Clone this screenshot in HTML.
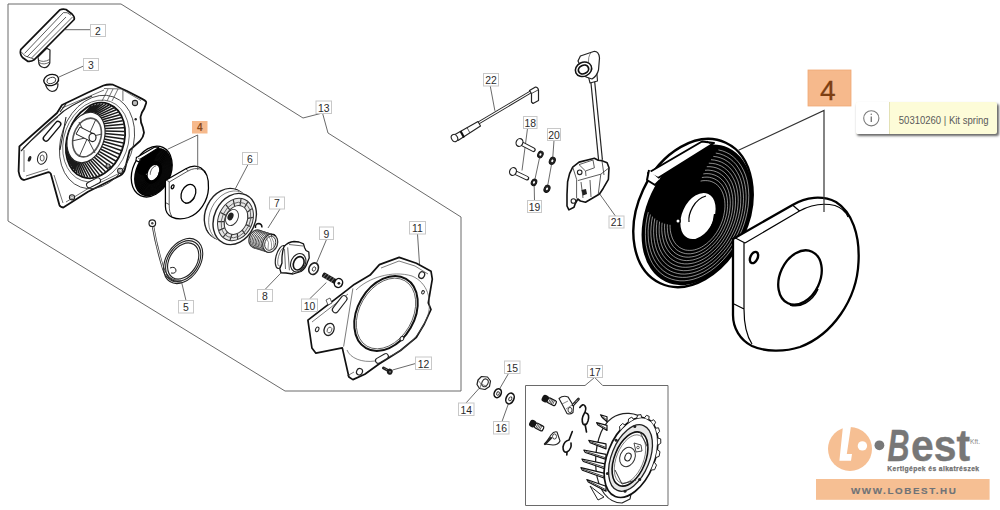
<!DOCTYPE html>
<html><head><meta charset="utf-8">
<style>
html,body{margin:0;padding:0;background:#fff;width:1000px;height:510px;overflow:hidden;font-family:"Liberation Sans",sans-serif;}
svg{position:absolute;left:0;top:0;}
svg text{font-family:"Liberation Sans",sans-serif;}
</style></head><body>
<svg width="1000" height="510" viewBox="0 0 1000 510">
<path d="M8,4 H121 L303,118 L322.5,113 L328,133 L461,217 V391 H285 L8,221 Z" fill="none" stroke="#6a6a6a" stroke-width="1"/>
<path d="M585,385.5 H525.5 V505.5 H668 V385.5 H602.7 L594.6,377.4 Z" fill="none" stroke="#6a6a6a" stroke-width="1"/>
<g style="--k:1;--wl:1"><ellipse cx="693" cy="213" rx="55" ry="77.5" transform="rotate(25 693 213)" fill="#fff" stroke="#000" style="stroke-width:calc(2.4px*var(--k))"/>
<ellipse cx="697" cy="214.8" rx="50.5" ry="74" transform="rotate(25 697 214.8)" fill="#000"/>
<path d="M700.6,181.1 L702.9,180.7 L705.3,180.6 L707.5,180.7 L709.7,181 L711.8,181.7 L713.8,182.6 L715.7,183.7 L717.4,185.1 L719,186.7 L720.4,188.6 L721.6,190.6 L722.7,192.9 L723.5,195.3 L724.2,197.8 L724.7,200.5 L724.9,203.3 L725,206.2 L724.8,209.2 L724.4,212.2 L723.8,215.3 L723.1,218.3 L722.1,221.3 L720.9,224.3 L719.6,227.2 L718.1,230 L716.4,232.8 L714.6,235.3 L712.7,237.8 L710.6,240 L708.5,242.1 L706.2,244 L703.9,245.6 L701.6,247.1 L699.2,248.3 L696.8,249.2 L694.4,249.9 L692.1,250.3 L689.7,250.4 L687.5,250.3 L685.3,250 L683.2,249.3 L681.2,248.4 L679.3,247.3 L677.6,245.9 L676,244.3 L674.6,242.4 L673.4,240.4 L672.3,238.1 L671.5,235.7 L670.8,233.2 L670.3,230.5 L670.1,227.7 L670,224.8" fill="none" stroke="#fff" style="stroke-width:calc(0.55px*var(--k));stroke-opacity:var(--wl)"/>
<path d="M701.9,177.5 L704.5,177.2 L707,177.1 L709.4,177.3 L711.8,177.9 L714.1,178.7 L716.2,179.8 L718.2,181.1 L720,182.8 L721.7,184.6 L723.1,186.8 L724.4,189.1 L725.5,191.6 L726.4,194.3 L727,197.2 L727.4,200.2 L727.6,203.3 L727.6,206.6 L727.3,209.8 L726.8,213.2 L726.1,216.5 L725.1,219.9 L724,223.2 L722.6,226.4 L721.1,229.6 L719.4,232.6 L717.5,235.6 L715.4,238.3 L713.2,240.9 L710.9,243.3 L708.5,245.5 L706.1,247.5 L703.5,249.2 L700.9,250.7 L698.3,251.9 L695.6,252.8 L693,253.4 L690.4,253.8 L687.9,253.8 L685.5,253.6 L683.1,253 L680.8,252.2 L678.7,251.1 L676.7,249.8 L674.9,248.1 L673.2,246.3 L671.8,244.1 L670.5,241.8 L669.4,239.3 L668.5,236.6 L667.9,233.7 L667.5,230.7 L667.3,227.6 L667.3,224.3" fill="none" stroke="#fff" style="stroke-width:calc(0.55px*var(--k));stroke-opacity:var(--wl)"/>
<path d="M703.3,173.9 L706.1,173.6 L708.9,173.7 L711.5,174.1 L714,174.8 L716.4,175.8 L718.7,177.1 L720.8,178.7 L722.7,180.6 L724.5,182.7 L726,185.1 L727.3,187.8 L728.4,190.6 L729.2,193.6 L729.8,196.8 L730.2,200.2 L730.3,203.6 L730.1,207.1 L729.7,210.7 L729.1,214.4 L728.2,218 L727.1,221.7 L725.7,225.2 L724.2,228.7 L722.4,232.1 L720.5,235.4 L718.3,238.5 L716,241.5 L713.6,244.2 L711.1,246.7 L708.4,249 L705.7,251.1 L702.9,252.8 L700,254.3 L697.2,255.5 L694.3,256.4 L691.5,256.9 L688.7,257.2 L685.9,257.1 L683.3,256.7 L680.8,256 L678.4,255 L676.1,253.7 L674,252.1 L672.1,250.2 L670.3,248.1 L668.8,245.7 L667.5,243 L666.4,240.2 L665.6,237.2 L665,234 L664.7,230.7 L664.5,227.2 L664.7,223.7" fill="none" stroke="#fff" style="stroke-width:calc(0.55px*var(--k));stroke-opacity:var(--wl)"/>
<path d="M705,170.3 L708,170.1 L710.9,170.4 L713.7,170.9 L716.4,171.8 L719,173 L721.3,174.6 L723.5,176.4 L725.5,178.6 L727.3,181 L728.9,183.7 L730.2,186.7 L731.2,189.8 L732,193.2 L732.6,196.7 L732.9,200.3 L732.9,204.1 L732.6,208 L732.1,211.9 L731.3,215.8 L730.2,219.8 L728.9,223.7 L727.4,227.5 L725.6,231.3 L723.6,234.9 L721.4,238.4 L719,241.7 L716.5,244.8 L713.8,247.7 L711,250.3 L708.1,252.7 L705.1,254.7 L702,256.5 L698.9,258 L695.8,259.1 L692.8,260 L689.7,260.4 L686.7,260.6 L683.8,260.4 L681,259.8 L678.3,258.9 L675.7,257.7 L673.4,256.1 L671.2,254.3 L669.2,252.1 L667.4,249.7 L665.8,247 L664.5,244.1 L663.5,240.9 L662.7,237.5 L662.1,234 L661.8,230.4 L661.8,226.6 L662.1,222.7" fill="none" stroke="#fff" style="stroke-width:calc(0.55px*var(--k));stroke-opacity:var(--wl)"/>
<path d="M706.8,166.7 L710,166.7 L713.1,167.1 L716.1,167.8 L718.9,168.9 L721.6,170.4 L724.1,172.2 L726.3,174.3 L728.4,176.8 L730.2,179.5 L731.8,182.5 L733.1,185.8 L734.1,189.2 L734.9,192.9 L735.4,196.8 L735.5,200.8 L735.4,204.9 L735,209 L734.3,213.3 L733.4,217.5 L732.1,221.7 L730.6,225.9 L728.8,230 L726.8,234 L724.6,237.8 L722.2,241.5 L719.5,245 L716.8,248.2 L713.8,251.2 L710.7,253.9 L707.6,256.4 L704.3,258.5 L701,260.3 L697.7,261.7 L694.4,262.8 L691,263.5 L687.8,263.9 L684.6,263.9 L681.5,263.5 L678.5,262.8 L675.7,261.7 L673,260.2 L670.5,258.4 L668.3,256.3 L666.2,253.8 L664.4,251.1 L662.8,248.1 L661.5,244.8 L660.5,241.4 L659.7,237.7 L659.2,233.8 L659.1,229.8 L659.2,225.7 L659.6,221.6" fill="none" stroke="#fff" style="stroke-width:calc(0.55px*var(--k));stroke-opacity:var(--wl)"/>
<path d="M708.8,163.2 L712.2,163.4 L715.5,163.9 L718.6,164.9 L721.6,166.2 L724.3,167.9 L726.9,170 L729.3,172.4 L731.4,175.1 L733.2,178.2 L734.8,181.5 L736.1,185.1 L737,188.9 L737.7,192.9 L738.1,197.1 L738.2,201.4 L737.9,205.9 L737.4,210.4 L736.5,214.9 L735.4,219.4 L733.9,223.9 L732.2,228.4 L730.2,232.7 L727.9,236.9 L725.5,241 L722.8,244.8 L719.9,248.4 L716.8,251.8 L713.6,254.9 L710.3,257.7 L706.9,260.2 L703.4,262.3 L699.8,264.1 L696.2,265.4 L692.7,266.5 L689.1,267.1 L685.7,267.3 L682.3,267.2 L679,266.6 L675.9,265.6 L672.9,264.3 L670.2,262.6 L667.6,260.5 L665.3,258.1 L663.2,255.4 L661.3,252.3 L659.7,249 L658.5,245.4 L657.5,241.6 L656.8,237.6 L656.4,233.4 L656.3,229.1 L656.6,224.7 L657.1,220.2" fill="none" stroke="#fff" style="stroke-width:calc(0.55px*var(--k));stroke-opacity:var(--wl)"/>
<path d="M711,159.7 L714.6,160.1 L718,160.9 L721.2,162 L724.3,163.6 L727.2,165.6 L729.8,167.9 L732.2,170.7 L734.4,173.7 L736.2,177.1 L737.8,180.7 L739,184.7 L739.9,188.8 L740.5,193.2 L740.8,197.7 L740.7,202.3 L740.4,207.1 L739.6,211.9 L738.6,216.8 L737.2,221.6 L735.6,226.4 L733.6,231.1 L731.4,235.6 L728.9,240.1 L726.2,244.3 L723.2,248.3 L720,252 L716.7,255.5 L713.2,258.7 L709.6,261.5 L706,264 L702.2,266.1 L698.4,267.9 L694.6,269.2 L690.8,270.1 L687.1,270.6 L683.4,270.7 L679.9,270.3 L676.4,269.6 L673.2,268.4 L670.1,266.8 L667.2,264.8 L664.6,262.5 L662.2,259.8 L660,256.7 L658.2,253.3 L656.6,249.7 L655.4,245.8 L654.5,241.6 L653.9,237.2 L653.6,232.7 L653.7,228.1 L654.1,223.3 L654.8,218.5" fill="none" stroke="#fff" style="stroke-width:calc(0.55px*var(--k));stroke-opacity:var(--wl)"/>
<path d="M713.3,156.4 L717,156.9 L720.6,157.9 L724,159.3 L727.2,161.2 L730.2,163.4 L732.9,166.1 L735.3,169.1 L737.4,172.5 L739.3,176.2 L740.8,180.2 L742,184.5 L742.8,189 L743.3,193.7 L743.5,198.5 L743.3,203.5 L742.7,208.6 L741.8,213.7 L740.6,218.9 L739,224 L737.1,229 L734.9,233.9 L732.4,238.7 L729.7,243.4 L726.7,247.8 L723.4,251.9 L720,255.8 L716.4,259.3 L712.7,262.6 L708.8,265.4 L704.9,267.9 L700.8,270 L696.8,271.7 L692.8,272.9 L688.8,273.7 L684.8,274.1 L681,274 L677.3,273.4 L673.7,272.4 L670.3,271 L667.1,269.1 L664.2,266.9 L661.5,264.2 L659,261.2 L656.9,257.8 L655,254.1 L653.5,250.1 L652.3,245.9 L651.5,241.4 L651,236.7 L650.8,231.8 L651.1,226.8 L651.6,221.7 L652.5,216.6" fill="none" stroke="#fff" style="stroke-width:calc(0.55px*var(--k));stroke-opacity:var(--wl)"/>
<path d="M715.8,153.1 L719.7,153.8 L723.4,155.1 L726.9,156.8 L730.2,158.9 L733.2,161.5 L736,164.4 L738.4,167.8 L740.5,171.5 L742.4,175.5 L743.8,179.9 L744.9,184.5 L745.7,189.4 L746.1,194.4 L746.1,199.6 L745.7,204.9 L745,210.3 L743.9,215.8 L742.4,221.2 L740.6,226.6 L738.5,231.9 L736,237 L733.3,242 L730.3,246.8 L727,251.4 L723.5,255.7 L719.8,259.6 L715.9,263.3 L711.9,266.5 L707.8,269.4 L703.6,271.9 L699.3,273.9 L695,275.5 L690.8,276.6 L686.6,277.3 L682.4,277.4 L678.4,277.1 L674.5,276.4 L670.8,275.1 L667.3,273.5 L664,271.3 L661,268.8 L658.3,265.8 L655.8,262.4 L653.7,258.7 L651.9,254.7 L650.4,250.3 L649.3,245.7 L648.5,240.9 L648.2,235.8 L648.1,230.6 L648.5,225.3 L649.3,219.9 L650.4,214.5" fill="none" stroke="#fff" style="stroke-width:calc(0.55px*var(--k));stroke-opacity:var(--wl)"/>
<path d="M718.4,149.9 L722.5,150.9 L726.3,152.4 L729.9,154.3 L733.2,156.8 L736.3,159.7 L739.1,163 L741.6,166.7 L743.7,170.7 L745.5,175.1 L746.9,179.8 L747.9,184.8 L748.5,190 L748.8,195.4 L748.6,200.9 L748.1,206.6 L747.1,212.3 L745.8,218 L744.1,223.8 L742.1,229.4 L739.7,234.9 L737,240.3 L734,245.5 L730.7,250.5 L727.1,255.2 L723.4,259.6 L719.4,263.6 L715.2,267.3 L710.9,270.6 L706.5,273.4 L702.1,275.9 L697.6,277.8 L693.1,279.3 L688.6,280.3 L684.2,280.8 L679.9,280.8 L675.7,280.2 L671.7,279.2 L667.8,277.7 L664.2,275.8 L660.9,273.3 L657.8,270.5 L655,267.2 L652.5,263.5 L650.4,259.4 L648.7,255 L647.3,250.3 L646.2,245.3 L645.6,240.1 L645.4,234.7 L645.5,229.2 L646.1,223.5 L647,217.8 L648.3,212.1" fill="none" stroke="#fff" style="stroke-width:calc(0.55px*var(--k));stroke-opacity:var(--wl)"/>
<ellipse cx="698" cy="216" rx="17" ry="25.5" transform="rotate(25 698 216)" fill="#fff" stroke="#000" style="stroke-width:calc(2.4px*var(--k))"/>
<path d="M686,239 C697,246 713,236 715,214" fill="none" stroke="#000" style="stroke-width:calc(2.2px*var(--k))"/>
<path d="M689,222 C688,214 694,199 706,196" fill="none" stroke="#000" style="stroke-width:calc(1.2px*var(--k))"/>
<circle cx="678" cy="221" r="2.2" fill="#fff" stroke="#000" style="stroke-width:calc(1.4px*var(--k))"/>
<path d="M648,173 L702,141.5 L714,143 L658,178 Z" fill="#fff" stroke="#000" style="stroke-width:calc(2px*var(--k))" stroke-linejoin="round"/>
<path d="M649,170 L647,180 L655,185 L660,180" fill="#fff" stroke="#000" style="stroke-width:calc(2px*var(--k))" stroke-linejoin="round"/>
<path d="M707,141 L714,147" fill="none" stroke="#000" style="stroke-width:calc(1px*var(--k))"/>
<path d="M733,239 L792.5,205 C806,197 822,195 836,202 C852,212 860,235 858.5,262 C857,300 832,335 800,347 C785,352 765,352 752,346 C740,340 733,328 733,315 Z" fill="#fff" stroke="#000" style="stroke-width:calc(2.3px*var(--k))" stroke-linejoin="round"/>
<path d="M745,243 L799.5,211 C812,204 824,203 835,205.5 C842,208 846,212 848,217 M733.5,237 L745,243 M792.5,205 L799.5,211 M744,243 V309 C744,325 746,335 752,344 M734,304 L744,309" fill="none" stroke="#000" style="stroke-width:calc(1.2px*var(--k))"/>
<ellipse cx="800" cy="277.5" rx="20" ry="28.5" transform="rotate(25 800 277.5)" fill="#fff" stroke="#000" style="stroke-width:calc(2.3px*var(--k))"/>
<path d="M818,289 C812,302 800,308 790,305" fill="none" stroke="#000" style="stroke-width:calc(1.6px*var(--k))"/>
<ellipse cx="754" cy="257.5" rx="3.6" ry="6" transform="rotate(25 754 257.5)" fill="#fff" stroke="#000" style="stroke-width:calc(2.4px*var(--k))"/></g>
<g style="--k:1.6;--wl:0.12" transform="translate(-86 98.5) scale(0.343)"><ellipse cx="693" cy="213" rx="55" ry="77.5" transform="rotate(25 693 213)" fill="#fff" stroke="#000" style="stroke-width:calc(2.4px*var(--k))"/>
<ellipse cx="697" cy="214.8" rx="50.5" ry="74" transform="rotate(25 697 214.8)" fill="#000"/>
<path d="M700.6,181.1 L702.9,180.7 L705.3,180.6 L707.5,180.7 L709.7,181 L711.8,181.7 L713.8,182.6 L715.7,183.7 L717.4,185.1 L719,186.7 L720.4,188.6 L721.6,190.6 L722.7,192.9 L723.5,195.3 L724.2,197.8 L724.7,200.5 L724.9,203.3 L725,206.2 L724.8,209.2 L724.4,212.2 L723.8,215.3 L723.1,218.3 L722.1,221.3 L720.9,224.3 L719.6,227.2 L718.1,230 L716.4,232.8 L714.6,235.3 L712.7,237.8 L710.6,240 L708.5,242.1 L706.2,244 L703.9,245.6 L701.6,247.1 L699.2,248.3 L696.8,249.2 L694.4,249.9 L692.1,250.3 L689.7,250.4 L687.5,250.3 L685.3,250 L683.2,249.3 L681.2,248.4 L679.3,247.3 L677.6,245.9 L676,244.3 L674.6,242.4 L673.4,240.4 L672.3,238.1 L671.5,235.7 L670.8,233.2 L670.3,230.5 L670.1,227.7 L670,224.8" fill="none" stroke="#fff" style="stroke-width:calc(0.55px*var(--k));stroke-opacity:var(--wl)"/>
<path d="M701.9,177.5 L704.5,177.2 L707,177.1 L709.4,177.3 L711.8,177.9 L714.1,178.7 L716.2,179.8 L718.2,181.1 L720,182.8 L721.7,184.6 L723.1,186.8 L724.4,189.1 L725.5,191.6 L726.4,194.3 L727,197.2 L727.4,200.2 L727.6,203.3 L727.6,206.6 L727.3,209.8 L726.8,213.2 L726.1,216.5 L725.1,219.9 L724,223.2 L722.6,226.4 L721.1,229.6 L719.4,232.6 L717.5,235.6 L715.4,238.3 L713.2,240.9 L710.9,243.3 L708.5,245.5 L706.1,247.5 L703.5,249.2 L700.9,250.7 L698.3,251.9 L695.6,252.8 L693,253.4 L690.4,253.8 L687.9,253.8 L685.5,253.6 L683.1,253 L680.8,252.2 L678.7,251.1 L676.7,249.8 L674.9,248.1 L673.2,246.3 L671.8,244.1 L670.5,241.8 L669.4,239.3 L668.5,236.6 L667.9,233.7 L667.5,230.7 L667.3,227.6 L667.3,224.3" fill="none" stroke="#fff" style="stroke-width:calc(0.55px*var(--k));stroke-opacity:var(--wl)"/>
<path d="M703.3,173.9 L706.1,173.6 L708.9,173.7 L711.5,174.1 L714,174.8 L716.4,175.8 L718.7,177.1 L720.8,178.7 L722.7,180.6 L724.5,182.7 L726,185.1 L727.3,187.8 L728.4,190.6 L729.2,193.6 L729.8,196.8 L730.2,200.2 L730.3,203.6 L730.1,207.1 L729.7,210.7 L729.1,214.4 L728.2,218 L727.1,221.7 L725.7,225.2 L724.2,228.7 L722.4,232.1 L720.5,235.4 L718.3,238.5 L716,241.5 L713.6,244.2 L711.1,246.7 L708.4,249 L705.7,251.1 L702.9,252.8 L700,254.3 L697.2,255.5 L694.3,256.4 L691.5,256.9 L688.7,257.2 L685.9,257.1 L683.3,256.7 L680.8,256 L678.4,255 L676.1,253.7 L674,252.1 L672.1,250.2 L670.3,248.1 L668.8,245.7 L667.5,243 L666.4,240.2 L665.6,237.2 L665,234 L664.7,230.7 L664.5,227.2 L664.7,223.7" fill="none" stroke="#fff" style="stroke-width:calc(0.55px*var(--k));stroke-opacity:var(--wl)"/>
<path d="M705,170.3 L708,170.1 L710.9,170.4 L713.7,170.9 L716.4,171.8 L719,173 L721.3,174.6 L723.5,176.4 L725.5,178.6 L727.3,181 L728.9,183.7 L730.2,186.7 L731.2,189.8 L732,193.2 L732.6,196.7 L732.9,200.3 L732.9,204.1 L732.6,208 L732.1,211.9 L731.3,215.8 L730.2,219.8 L728.9,223.7 L727.4,227.5 L725.6,231.3 L723.6,234.9 L721.4,238.4 L719,241.7 L716.5,244.8 L713.8,247.7 L711,250.3 L708.1,252.7 L705.1,254.7 L702,256.5 L698.9,258 L695.8,259.1 L692.8,260 L689.7,260.4 L686.7,260.6 L683.8,260.4 L681,259.8 L678.3,258.9 L675.7,257.7 L673.4,256.1 L671.2,254.3 L669.2,252.1 L667.4,249.7 L665.8,247 L664.5,244.1 L663.5,240.9 L662.7,237.5 L662.1,234 L661.8,230.4 L661.8,226.6 L662.1,222.7" fill="none" stroke="#fff" style="stroke-width:calc(0.55px*var(--k));stroke-opacity:var(--wl)"/>
<path d="M706.8,166.7 L710,166.7 L713.1,167.1 L716.1,167.8 L718.9,168.9 L721.6,170.4 L724.1,172.2 L726.3,174.3 L728.4,176.8 L730.2,179.5 L731.8,182.5 L733.1,185.8 L734.1,189.2 L734.9,192.9 L735.4,196.8 L735.5,200.8 L735.4,204.9 L735,209 L734.3,213.3 L733.4,217.5 L732.1,221.7 L730.6,225.9 L728.8,230 L726.8,234 L724.6,237.8 L722.2,241.5 L719.5,245 L716.8,248.2 L713.8,251.2 L710.7,253.9 L707.6,256.4 L704.3,258.5 L701,260.3 L697.7,261.7 L694.4,262.8 L691,263.5 L687.8,263.9 L684.6,263.9 L681.5,263.5 L678.5,262.8 L675.7,261.7 L673,260.2 L670.5,258.4 L668.3,256.3 L666.2,253.8 L664.4,251.1 L662.8,248.1 L661.5,244.8 L660.5,241.4 L659.7,237.7 L659.2,233.8 L659.1,229.8 L659.2,225.7 L659.6,221.6" fill="none" stroke="#fff" style="stroke-width:calc(0.55px*var(--k));stroke-opacity:var(--wl)"/>
<path d="M708.8,163.2 L712.2,163.4 L715.5,163.9 L718.6,164.9 L721.6,166.2 L724.3,167.9 L726.9,170 L729.3,172.4 L731.4,175.1 L733.2,178.2 L734.8,181.5 L736.1,185.1 L737,188.9 L737.7,192.9 L738.1,197.1 L738.2,201.4 L737.9,205.9 L737.4,210.4 L736.5,214.9 L735.4,219.4 L733.9,223.9 L732.2,228.4 L730.2,232.7 L727.9,236.9 L725.5,241 L722.8,244.8 L719.9,248.4 L716.8,251.8 L713.6,254.9 L710.3,257.7 L706.9,260.2 L703.4,262.3 L699.8,264.1 L696.2,265.4 L692.7,266.5 L689.1,267.1 L685.7,267.3 L682.3,267.2 L679,266.6 L675.9,265.6 L672.9,264.3 L670.2,262.6 L667.6,260.5 L665.3,258.1 L663.2,255.4 L661.3,252.3 L659.7,249 L658.5,245.4 L657.5,241.6 L656.8,237.6 L656.4,233.4 L656.3,229.1 L656.6,224.7 L657.1,220.2" fill="none" stroke="#fff" style="stroke-width:calc(0.55px*var(--k));stroke-opacity:var(--wl)"/>
<path d="M711,159.7 L714.6,160.1 L718,160.9 L721.2,162 L724.3,163.6 L727.2,165.6 L729.8,167.9 L732.2,170.7 L734.4,173.7 L736.2,177.1 L737.8,180.7 L739,184.7 L739.9,188.8 L740.5,193.2 L740.8,197.7 L740.7,202.3 L740.4,207.1 L739.6,211.9 L738.6,216.8 L737.2,221.6 L735.6,226.4 L733.6,231.1 L731.4,235.6 L728.9,240.1 L726.2,244.3 L723.2,248.3 L720,252 L716.7,255.5 L713.2,258.7 L709.6,261.5 L706,264 L702.2,266.1 L698.4,267.9 L694.6,269.2 L690.8,270.1 L687.1,270.6 L683.4,270.7 L679.9,270.3 L676.4,269.6 L673.2,268.4 L670.1,266.8 L667.2,264.8 L664.6,262.5 L662.2,259.8 L660,256.7 L658.2,253.3 L656.6,249.7 L655.4,245.8 L654.5,241.6 L653.9,237.2 L653.6,232.7 L653.7,228.1 L654.1,223.3 L654.8,218.5" fill="none" stroke="#fff" style="stroke-width:calc(0.55px*var(--k));stroke-opacity:var(--wl)"/>
<path d="M713.3,156.4 L717,156.9 L720.6,157.9 L724,159.3 L727.2,161.2 L730.2,163.4 L732.9,166.1 L735.3,169.1 L737.4,172.5 L739.3,176.2 L740.8,180.2 L742,184.5 L742.8,189 L743.3,193.7 L743.5,198.5 L743.3,203.5 L742.7,208.6 L741.8,213.7 L740.6,218.9 L739,224 L737.1,229 L734.9,233.9 L732.4,238.7 L729.7,243.4 L726.7,247.8 L723.4,251.9 L720,255.8 L716.4,259.3 L712.7,262.6 L708.8,265.4 L704.9,267.9 L700.8,270 L696.8,271.7 L692.8,272.9 L688.8,273.7 L684.8,274.1 L681,274 L677.3,273.4 L673.7,272.4 L670.3,271 L667.1,269.1 L664.2,266.9 L661.5,264.2 L659,261.2 L656.9,257.8 L655,254.1 L653.5,250.1 L652.3,245.9 L651.5,241.4 L651,236.7 L650.8,231.8 L651.1,226.8 L651.6,221.7 L652.5,216.6" fill="none" stroke="#fff" style="stroke-width:calc(0.55px*var(--k));stroke-opacity:var(--wl)"/>
<path d="M715.8,153.1 L719.7,153.8 L723.4,155.1 L726.9,156.8 L730.2,158.9 L733.2,161.5 L736,164.4 L738.4,167.8 L740.5,171.5 L742.4,175.5 L743.8,179.9 L744.9,184.5 L745.7,189.4 L746.1,194.4 L746.1,199.6 L745.7,204.9 L745,210.3 L743.9,215.8 L742.4,221.2 L740.6,226.6 L738.5,231.9 L736,237 L733.3,242 L730.3,246.8 L727,251.4 L723.5,255.7 L719.8,259.6 L715.9,263.3 L711.9,266.5 L707.8,269.4 L703.6,271.9 L699.3,273.9 L695,275.5 L690.8,276.6 L686.6,277.3 L682.4,277.4 L678.4,277.1 L674.5,276.4 L670.8,275.1 L667.3,273.5 L664,271.3 L661,268.8 L658.3,265.8 L655.8,262.4 L653.7,258.7 L651.9,254.7 L650.4,250.3 L649.3,245.7 L648.5,240.9 L648.2,235.8 L648.1,230.6 L648.5,225.3 L649.3,219.9 L650.4,214.5" fill="none" stroke="#fff" style="stroke-width:calc(0.55px*var(--k));stroke-opacity:var(--wl)"/>
<path d="M718.4,149.9 L722.5,150.9 L726.3,152.4 L729.9,154.3 L733.2,156.8 L736.3,159.7 L739.1,163 L741.6,166.7 L743.7,170.7 L745.5,175.1 L746.9,179.8 L747.9,184.8 L748.5,190 L748.8,195.4 L748.6,200.9 L748.1,206.6 L747.1,212.3 L745.8,218 L744.1,223.8 L742.1,229.4 L739.7,234.9 L737,240.3 L734,245.5 L730.7,250.5 L727.1,255.2 L723.4,259.6 L719.4,263.6 L715.2,267.3 L710.9,270.6 L706.5,273.4 L702.1,275.9 L697.6,277.8 L693.1,279.3 L688.6,280.3 L684.2,280.8 L679.9,280.8 L675.7,280.2 L671.7,279.2 L667.8,277.7 L664.2,275.8 L660.9,273.3 L657.8,270.5 L655,267.2 L652.5,263.5 L650.4,259.4 L648.7,255 L647.3,250.3 L646.2,245.3 L645.6,240.1 L645.4,234.7 L645.5,229.2 L646.1,223.5 L647,217.8 L648.3,212.1" fill="none" stroke="#fff" style="stroke-width:calc(0.55px*var(--k));stroke-opacity:var(--wl)"/>
<ellipse cx="698" cy="216" rx="17" ry="25.5" transform="rotate(25 698 216)" fill="#fff" stroke="#000" style="stroke-width:calc(2.4px*var(--k))"/>
<path d="M686,239 C697,246 713,236 715,214" fill="none" stroke="#000" style="stroke-width:calc(2.2px*var(--k))"/>
<path d="M689,222 C688,214 694,199 706,196" fill="none" stroke="#000" style="stroke-width:calc(1.2px*var(--k))"/>
<circle cx="678" cy="221" r="2.2" fill="#fff" stroke="#000" style="stroke-width:calc(1.4px*var(--k))"/>
<path d="M648,173 L702,141.5 L714,143 L658,178 Z" fill="#fff" stroke="#000" style="stroke-width:calc(2px*var(--k))" stroke-linejoin="round"/>
<path d="M649,170 L647,180 L655,185 L660,180" fill="#fff" stroke="#000" style="stroke-width:calc(2px*var(--k))" stroke-linejoin="round"/>
<path d="M707,141 L714,147" fill="none" stroke="#000" style="stroke-width:calc(1px*var(--k))"/>
<path d="M733,239 L792.5,205 C806,197 822,195 836,202 C852,212 860,235 858.5,262 C857,300 832,335 800,347 C785,352 765,352 752,346 C740,340 733,328 733,315 Z" fill="#fff" stroke="#000" style="stroke-width:calc(2.3px*var(--k))" stroke-linejoin="round"/>
<path d="M745,243 L799.5,211 C812,204 824,203 835,205.5 C842,208 846,212 848,217 M733.5,237 L745,243 M792.5,205 L799.5,211 M744,243 V309 C744,325 746,335 752,344 M734,304 L744,309" fill="none" stroke="#000" style="stroke-width:calc(1.2px*var(--k))"/>
<ellipse cx="800" cy="277.5" rx="20" ry="28.5" transform="rotate(25 800 277.5)" fill="#fff" stroke="#000" style="stroke-width:calc(2.3px*var(--k))"/>
<path d="M818,289 C812,302 800,308 790,305" fill="none" stroke="#000" style="stroke-width:calc(1.6px*var(--k))"/>
<ellipse cx="754" cy="257.5" rx="3.6" ry="6" transform="rotate(25 754 257.5)" fill="#fff" stroke="#000" style="stroke-width:calc(2.4px*var(--k))"/></g>
<path d="M738.5,150.3 L824,110.5 V212" fill="none" stroke="#333" stroke-width="1.2"/>
<path d="M167.7,149.2 L197.7,135 V170" fill="none" stroke="#444" stroke-width="0.8"/>
<path d="M19.4,146.3 L57,113 L62,105 L88,92.5 L103.5,85.5 Q108,84 113,84.7 L127,91 L143.5,99.6 Q146.5,101 146.2,103 L144.2,108.6 Q141,113 140.5,117 Q140.5,123 142.8,127.1 L144,132.6 Q143.5,137 140,141 L129.6,150.4 L124.9,169.2 Q124,173 120.2,175.5 L88,191.8 L63.3,207.5 Q60,207 59.4,205 L50.8,173.7 Q49.5,172 48.4,172.2 L24.1,180 Q20,180 18.6,171.4 Z" fill="#fff" stroke="#111" stroke-width="1.8" stroke-linejoin="round"/>
<path d="M23,148 L58,117 M26,176 L48,169 M24,150 V172 M54,175 L63,203 M62,108 L104,90 M104,88.5 L122.9,89 L122.9,101 M108,89 L102,101 M113,89 L107,101 M118,89 L112,101 M123,90 L141,100.5 M122,172 L89,188 L66,202" fill="none" stroke="#333" stroke-width="0.7"/>
<ellipse cx="97" cy="142" rx="36" ry="48" transform="rotate(20 97 142)" fill="none" stroke="#333" stroke-width="0.8"/>
<ellipse cx="96" cy="141" rx="32" ry="42" transform="rotate(20 96 141)" fill="none" stroke="#444" stroke-width="0.7"/>
<ellipse cx="95.5" cy="140.5" rx="28.2" ry="38.8" transform="rotate(20 95.5 140.5)" fill="#fff" stroke="#111" stroke-width="1.8"/>
<path d="M83.6,114 L91.3,105.9 M85.6,113.1 L94.3,104.7 M87.6,112.6 L97.4,104 M89.6,112.3 L100.4,103.6 M91.5,112.3 L103.3,103.7 M93.4,112.6 L106.2,104.1 M95.2,113.2 L108.9,105 M96.9,114 L111.5,106.2 M98.5,115.1 L114,107.8 M99.9,116.4 L116.2,109.8 M101.2,118 L118.2,112.1 M102.3,119.7 L119.9,114.7 M103.3,121.7 L121.4,117.6 M104,123.8 L122.6,120.8 M104.6,126.1 L123.5,124.2 M105,128.5 L124.1,127.7 M105.1,131 L124.4,131.4 M105,133.6 L124.4,135.2 M104.8,136.2 L124,139.1 M104.3,138.9 L123.3,142.9 M103.6,141.5 L122.4,146.8 M102.8,144.1 L121.1,150.5 M101.7,146.6 L119.6,154.2 M100.5,149 L117.8,157.7 M99.1,151.3 L115.7,161 M97.6,153.4 L113.4,164.1 M95.9,155.4 L111,167 M94.2,157.1 L108.3,169.5 M92.3,158.7 L105.5,171.7 M90.4,160 L102.6,173.6 M88.4,161 L99.7,175.1 M86.4,161.9 L96.7,176.3 M84.4,162.4 L93.6,177 M82.4,162.7 L90.6,177.4 M80.5,162.7 L87.7,177.3 M78.6,162.4 L84.8,176.9 M76.8,161.8 L82.1,176 M75.1,161 L79.5,174.8 M73.5,159.9 L77,173.2 M72.1,158.6 L74.8,171.2 M70.8,157 L72.8,168.9 M69.7,155.3 L71.1,166.3 M68.7,153.3 L69.6,163.4 M68,151.2 L68.4,160.2 M67.4,148.9 L67.5,156.8 M67,146.5 L66.9,153.3" fill="none" stroke="#1a1a1a" stroke-width="1.5"/>
<ellipse cx="86" cy="137.5" rx="18" ry="26" transform="rotate(20 86 137.5)" fill="#fff" stroke="#222" stroke-width="1.2"/>
<ellipse cx="87" cy="137.5" rx="13.5" ry="20" transform="rotate(20 87 137.5)" fill="none" stroke="#555" stroke-width="1.6"/>
<path d="M79,122 L95,153 M72,141 L102,134 M79,157 L96,119" fill="none" stroke="#444" stroke-width="1"/>
<path d="M80,127 L94,134 L90,141 L76,134 Z" fill="#fff" stroke="#222" stroke-width="1"/>
<ellipse cx="92.5" cy="137.5" rx="3.5" ry="4.2" fill="#fff" stroke="#222" stroke-width="1.2"/>
<circle cx="135" cy="103" r="2.6" fill="#fff" stroke="#222" stroke-width="1.1"/><circle cx="135" cy="103" r="1.3" fill="none" stroke="#555" stroke-width="0.6"/>
<circle cx="72" cy="197.3" r="2.6" fill="#fff" stroke="#222" stroke-width="1.1"/><circle cx="72" cy="197.3" r="1.3" fill="none" stroke="#555" stroke-width="0.6"/>
<circle cx="120.2" cy="170.8" r="2.6" fill="#fff" stroke="#222" stroke-width="1.1"/><circle cx="120.2" cy="170.8" r="1.3" fill="none" stroke="#555" stroke-width="0.6"/>
<circle cx="108" cy="166" r="2" fill="#fff" stroke="#222" stroke-width="1.1"/><circle cx="108" cy="166" r="1.0" fill="none" stroke="#555" stroke-width="0.6"/>
<circle cx="135.7" cy="119.2" r="1.2" fill="#222"/>
<ellipse cx="42.2" cy="158" rx="4.5" ry="6.5" transform="rotate(20 42.2 158)" fill="#fff" stroke="#222" stroke-width="1"/><ellipse cx="42.2" cy="158" rx="2" ry="3" fill="none" stroke="#333" stroke-width="0.8"/>
<ellipse cx="29.6" cy="158.8" rx="1.6" ry="3" transform="rotate(20 29.6 158.8)" fill="#222"/>
<rect x="86" y="180" width="15" height="5.5" rx="2.7" transform="rotate(-27 93.5 182.7)" fill="#fff" stroke="#222" stroke-width="1"/>
<rect x="40" y="128.5" width="24" height="5.5" rx="2.7" transform="rotate(-50 52 131.2)" fill="#fff" stroke="#111" stroke-width="1.4"/>
<path d="M21,151 C35,136 48,124 58,116 C64,110 75,103 92,96 M60,112 L66,104 M66,117 L60,150" fill="none" stroke="#222" stroke-width="1.1"/>
<path d="M38,57 L46.8,48.3 L50,50 L49.8,63 Q48,68 43.5,67.5 Q38.5,66.5 38.6,61 Z" fill="#fff" stroke="#222" stroke-width="1.2" stroke-linejoin="round"/>
<path d="M38.6,60 Q43,63 49.6,59.5 M39,62.5 Q44,65.5 49.6,62" fill="none" stroke="#444" stroke-width="0.8"/>
<path d="M20.7,49.6 L59.6,10.1 Q62.5,8.5 66,9.5 L72,14 Q75,17 74.2,19.5 L34.1,59.8 Q31,62 27.7,61.3 L22.5,57.5 Q19.5,54 20.7,49.6 Z" fill="#fff" stroke="#111" stroke-width="1.7" stroke-linejoin="round"/>
<path d="M24.6,53.4 L63.4,12.6 Q67,11.5 71,15.2 M31.5,58 L72.5,17 M21.4,52.1 L25.2,56 L34.1,59.1 M27,57 L66,17" fill="none" stroke="#333" stroke-width="0.8"/>
<path d="M64.4,29.7 H90.5" fill="none" stroke="#444" stroke-width="0.8"/>
<path d="M45,82 Q46,90 52,91.5 Q58,91 58,84 Z" fill="#fff" stroke="#222" stroke-width="1.2"/>
<ellipse cx="51.2" cy="80" rx="7.5" ry="5.5" transform="rotate(-15 51.2 80)" fill="#fff" stroke="#111" stroke-width="1.4"/>
<ellipse cx="51.2" cy="80.5" rx="4.5" ry="3" transform="rotate(-15 51.2 80)" fill="none" stroke="#333" stroke-width="0.9"/>
<path d="M59,77 L83.5,66" fill="none" stroke="#444" stroke-width="0.8"/>
<path d="M152.5,224 Q156,245 163,268 Q168,283 181,281" fill="none" stroke="#333" stroke-width="2.4"/>
<path d="M152.5,224 Q156,245 163,268 Q168,283 181,281" fill="none" stroke="#fff" stroke-width="0.9"/>
<ellipse cx="183.2" cy="261" rx="17" ry="24.5" transform="rotate(33 183.2 261)" fill="none" stroke="#222" stroke-width="1.1"/>
<ellipse cx="183.2" cy="261" rx="15.3" ry="22.1" transform="rotate(33 183.2 261)" fill="none" stroke="#222" stroke-width="1.1"/>
<ellipse cx="183.2" cy="261" rx="13.6" ry="19.6" transform="rotate(33 183.2 261)" fill="none" stroke="#222" stroke-width="1.1"/>
<circle cx="152.3" cy="223.2" r="3.3" fill="#fff" stroke="#222" stroke-width="1.2"/><circle cx="152.3" cy="223.2" r="1.2" fill="#444"/>
<path d="M170,268 Q175,266 176,270 Q176,274 171,273" fill="none" stroke="#222" stroke-width="1"/>
<path d="M181.4,281.4 L186,300.5" fill="none" stroke="#444" stroke-width="0.8"/>
<ellipse cx="226" cy="214" rx="20.5" ry="26.5" transform="rotate(25 226 214)" fill="#fff" stroke="#222" stroke-width="1.4"/>
<ellipse cx="227.4" cy="214.8" rx="20.5" ry="26.5" transform="rotate(25 227.4 214.8)" fill="#fff" stroke="#222" stroke-width="0"/>
<ellipse cx="228.9" cy="215.7" rx="20.5" ry="26.5" transform="rotate(25 228.9 215.7)" fill="#fff" stroke="#222" stroke-width="0"/>
<ellipse cx="230.3" cy="216.5" rx="20.5" ry="26.5" transform="rotate(25 230.3 216.5)" fill="#fff" stroke="#222" stroke-width="0.5"/>
<ellipse cx="231.8" cy="217.3" rx="20.5" ry="26.5" transform="rotate(25 231.8 217.3)" fill="#fff" stroke="#222" stroke-width="0"/>
<ellipse cx="233.2" cy="218.2" rx="20.5" ry="26.5" transform="rotate(25 233.2 218.2)" fill="#fff" stroke="#222" stroke-width="0"/>
<ellipse cx="234.7" cy="219" rx="20.5" ry="26.5" transform="rotate(25 234.7 219)" fill="#fff" stroke="#222" stroke-width="1.4"/>
<ellipse cx="235.5" cy="219.5" rx="17" ry="22" transform="rotate(25 235.5 219.5)" fill="#e6e6e6" stroke="#333" stroke-width="1"/>
<path d="M246,224.6 L250.5,226.5 M242.2,230.1 L245,234.2 M237.3,233.5 L237.7,239.1 M232,234.3 L230,240 M227.6,232.2 L223.3,236.9 M224.8,227.7 L219.1,230.4 M224.3,221.7 L218.1,221.7 M226,215.4 L220.5,212.5 M229.8,209.9 L226,204.8 M234.7,206.5 L233.3,199.9 M240,205.7 L241,199 M244.4,207.8 L247.7,202.1 M247.2,212.3 L251.9,208.6 M247.7,218.3 L252.9,217.3" fill="none" stroke="#333" stroke-width="1.2"/>
<ellipse cx="236" cy="220" rx="14" ry="18.5" transform="rotate(25 236 220)" fill="none" stroke="#555" stroke-width="0.8"/>
<ellipse cx="236" cy="220" rx="11" ry="15" transform="rotate(25 236 220)" fill="#fff" stroke="#333" stroke-width="1"/>
<ellipse cx="232" cy="217.5" rx="6" ry="8.5" transform="rotate(25 232 217.5)" fill="#fff" stroke="#333" stroke-width="0.9"/>
<ellipse cx="230.5" cy="216.5" rx="2.8" ry="4" transform="rotate(25 230.5 216.5)" fill="#222"/>
<path d="M248,164.5 L235.3,188.8" fill="none" stroke="#444" stroke-width="0.8"/>
<ellipse cx="256.5" cy="239" rx="7.3" ry="9.3" transform="rotate(20 256.5 239)" fill="#fff" stroke="#333" stroke-width="1.3"/>
<ellipse cx="258" cy="239.5" rx="7.3" ry="9.3" transform="rotate(20 258 239.5)" fill="#fff" stroke="#333" stroke-width="0.8"/>
<ellipse cx="259.5" cy="240" rx="7.3" ry="9.3" transform="rotate(20 259.5 240)" fill="#fff" stroke="#333" stroke-width="0.8"/>
<ellipse cx="261.1" cy="240.4" rx="7.3" ry="9.3" transform="rotate(20 261.1 240.4)" fill="#fff" stroke="#333" stroke-width="0.8"/>
<ellipse cx="262.6" cy="240.9" rx="7.3" ry="9.3" transform="rotate(20 262.6 240.9)" fill="#fff" stroke="#333" stroke-width="0.8"/>
<ellipse cx="264.1" cy="241.4" rx="7.3" ry="9.3" transform="rotate(20 264.1 241.4)" fill="#fff" stroke="#333" stroke-width="0.8"/>
<ellipse cx="265.6" cy="241.9" rx="7.3" ry="9.3" transform="rotate(20 265.6 241.9)" fill="#fff" stroke="#333" stroke-width="0.8"/>
<ellipse cx="267.2" cy="242.3" rx="7.3" ry="9.3" transform="rotate(20 267.2 242.3)" fill="#fff" stroke="#333" stroke-width="0.8"/>
<ellipse cx="268.7" cy="242.8" rx="7.3" ry="9.3" transform="rotate(20 268.7 242.8)" fill="#fff" stroke="#333" stroke-width="0.8"/>
<ellipse cx="270.2" cy="243.3" rx="7.3" ry="9.3" transform="rotate(20 270.2 243.3)" fill="#fff" stroke="#333" stroke-width="1.3"/>
<ellipse cx="270.2" cy="243.3" rx="5.3" ry="7.2" transform="rotate(20 270.2 243.3)" fill="#fff" stroke="#333" stroke-width="0.9"/>
<path d="M266,237 Q270,242 268,249 M268.5,236 Q273,242 271,250 M271,236 Q275,242 274,249" fill="none" stroke="#666" stroke-width="0.7"/>
<path d="M255.5,228 Q255,223.5 259,223.5 Q262,224 262,227.5" fill="none" stroke="#111" stroke-width="1.4"/>
<path d="M271,235.5 Q273.5,233 275.5,236" fill="none" stroke="#111" stroke-width="1.2"/>
<path d="M280,209 L268,228" fill="none" stroke="#444" stroke-width="0.8"/>
<ellipse cx="281" cy="257" rx="5" ry="11.8" transform="rotate(15 281 257)" fill="#fff" stroke="#222" stroke-width="1.2"/>
<ellipse cx="281.5" cy="257" rx="3" ry="9.5" transform="rotate(15 281.5 257)" fill="none" stroke="#555" stroke-width="0.7"/>
<path d="M284,246.5 Q288,242 294,241.5 L299,242 L303.5,243.8 L304.5,247.5 L306,250.5 L308.8,252 L309.2,258 L307.5,262 Q306,268 301,271.5 L293,274 L286,273 L281,272.8 L279.8,268.8 L282,263 Q281.5,254 284,246.5 Z" fill="#fff" stroke="#111" stroke-width="1.3" stroke-linejoin="round"/>
<path d="M287.7,247.4 L289.4,270.3 M284.5,249 L285.5,269 M289,244.5 L303,246 M292,273 L304,266" fill="none" stroke="#444" stroke-width="0.8"/>
<ellipse cx="298.2" cy="262.7" rx="7.2" ry="9.6" transform="rotate(25 298.2 262.7)" fill="#fff" stroke="#222" stroke-width="1.1"/>
<ellipse cx="298.7" cy="263.3" rx="5" ry="7" transform="rotate(25 298.7 263.3)" fill="#fff" stroke="#111" stroke-width="1.6"/>
<path d="M281.3,272.6 L265,289.5" fill="none" stroke="#444" stroke-width="0.8"/>
<ellipse cx="313.6" cy="268.7" rx="4.6" ry="6" transform="rotate(25 313.6 268.7)" fill="#fff" stroke="#222" stroke-width="1.6"/>
<ellipse cx="314" cy="269" rx="1.6" ry="2.3" transform="rotate(25 314 269)" fill="#fff" stroke="#333" stroke-width="0.8"/>
<path d="M316.6,263 L326.5,239.5" fill="none" stroke="#444" stroke-width="0.8"/>
<g transform="translate(323.5 274.8) rotate(30)"><rect x="-1" y="-2.6" width="16" height="5.2" rx="1.5" fill="#1a1a1a"/><path d="M2,-2.6 l-1,5.2 M5,-2.6 l-1,5.2 M8,-2.6 l-1,5.2 M11,-2.6 l-1,5.2" stroke="#999" stroke-width="0.7"/></g>
<ellipse cx="338.5" cy="283" rx="4" ry="4.6" transform="rotate(25 338.5 283)" fill="#fff" stroke="#111" stroke-width="1.5"/>
<circle cx="338.9" cy="283.3" r="1.4" fill="#222"/>
<path d="M326.4,282.5 L309.5,299" fill="none" stroke="#444" stroke-width="0.8"/>
<path d="M307.9,320.1 L347.6,289.7 L354.2,284.4 L370.1,275.1 L379.4,264.6 L399.2,257.4 L416.4,263.2 L431,271.2 L432.3,279.1 L429.6,295 L428.3,302.9 L431,309.5 L424.3,324 L416.4,337.3 L400.5,350.5 L379.4,363.8 L364.8,374.3 L352.9,379.6 L348.9,377 L342.3,347.9 L315.9,353.2 L311.9,347.9 Z" fill="#fff" stroke="#111" stroke-width="1.7" stroke-linejoin="round"/>
<path d="M352.9,288.4 L343.6,346.6 M312,322 L348,294 M381,268 L399,261 L415,266 L428,274 M347,376 L354,372" fill="none" stroke="#444" stroke-width="0.7"/>
<path d="M356,290 C368,278 392,270 412,276 C428,283 432,300 428,315 C420,338 400,356 375,361 C362,363 350,358 347,350" fill="none" stroke="#555" stroke-width="0.7"/>
<ellipse cx="386" cy="313.5" rx="28.5" ry="40" transform="rotate(30 386 313.5)" fill="#fff" stroke="#111" stroke-width="2"/>
<ellipse cx="386" cy="313.5" rx="26.5" ry="37.8" transform="rotate(30 386 313.5)" fill="none" stroke="#333" stroke-width="0.7"/>
<ellipse cx="329.1" cy="329.4" rx="4.8" ry="6.3" transform="rotate(25 329.1 329.4)" fill="#fff" stroke="#222" stroke-width="1.3"/>
<ellipse cx="317.2" cy="329.4" rx="1.6" ry="2.4" transform="rotate(25 317.2 329.4)" fill="#fff" stroke="#222" stroke-width="1"/>
<ellipse cx="421.7" cy="275.1" rx="2.8" ry="3.4" transform="rotate(25 421.7 275.1)" fill="#fff" stroke="#222" stroke-width="1.3"/>
<ellipse cx="423" cy="292.3" rx="1.3" ry="1.7" transform="rotate(25 423 292.3)" fill="#fff" stroke="#222" stroke-width="1"/>
<ellipse cx="359.5" cy="371.7" rx="2.9" ry="3.3" transform="rotate(25 359.5 371.7)" fill="#fff" stroke="#222" stroke-width="1.2"/>
<ellipse cx="401.9" cy="338.6" rx="1.8" ry="2.2" transform="rotate(25 401.9 338.6)" fill="#fff" stroke="#222" stroke-width="1"/>
<ellipse cx="329.5" cy="330" rx="2.2" ry="3" transform="rotate(25 329.5 330)" fill="none" stroke="#444" stroke-width="0.8"/>
<rect x="375" y="355.8" width="14" height="5.2" rx="2.6" transform="rotate(-30 382 358.5)" fill="#fff" stroke="#222" stroke-width="1.1"/>
<rect x="329.7" y="301.2" width="20" height="6" rx="3" transform="rotate(-52 339.7 304.2)" fill="#fff" stroke="#222" stroke-width="1.1"/>
<path d="M326,300 L330,298 L332,303 L328,305 Z" fill="#fff" stroke="#333" stroke-width="0.8"/>
<path d="M417.5,234 L419.5,264" fill="none" stroke="#444" stroke-width="0.8"/>
<path d="M383.5,368 L389,371" fill="none" stroke="#222" stroke-width="3" stroke-linecap="round"/><path d="M384.5,368.3 L388,370.3" fill="none" stroke="#aaa" stroke-width="0.8" stroke-dasharray="1 1"/>
<ellipse cx="389.8" cy="371.7" rx="2.8" ry="3" transform="rotate(25 389.8 371.7)" fill="#1a1a1a"/><circle cx="390" cy="371.8" r="0.9" fill="#888"/>
<path d="M392.5,370 L415.5,363.5" fill="none" stroke="#444" stroke-width="0.8"/>
<path d="M478,380 L481.5,376.5 L487.5,377 L490.5,381 L489.5,386.5 L485,389.5 L479.5,388.5 L477,384.5 Z" fill="#fff" stroke="#222" stroke-width="1.2" stroke-linejoin="round"/>
<ellipse cx="485" cy="382.8" rx="3" ry="4" transform="rotate(25 485 382.8)" fill="#fff" stroke="#333" stroke-width="1.1"/><path d="M478,380 L481,384 L480,388.5 M481,384 L486,386" fill="none" stroke="#555" stroke-width="0.7"/>
<path d="M479,388.5 L466,403" fill="none" stroke="#444" stroke-width="0.8"/>
<ellipse cx="497.7" cy="393.2" rx="3.4" ry="4.6" transform="rotate(25 497.7 393.2)" fill="#fff" stroke="#111" stroke-width="1.6"/><ellipse cx="498" cy="393.5" rx="1.3" ry="1.8" transform="rotate(25 498 393.5)" fill="#fff" stroke="#333" stroke-width="0.9"/>
<path d="M499.5,389 L508.5,373.5" fill="none" stroke="#444" stroke-width="0.8"/>
<ellipse cx="510" cy="398.5" rx="3.8" ry="5.6" transform="rotate(25 510 398.5)" fill="#fff" stroke="#111" stroke-width="1.6"/><ellipse cx="510.3" cy="398.8" rx="1.4" ry="2" transform="rotate(25 510.3 398.8)" fill="#fff" stroke="#333" stroke-width="0.9"/>
<path d="M508.5,403.5 L502,421.5" fill="none" stroke="#444" stroke-width="0.8"/>
<g transform="translate(545 398.5) rotate(26)"><rect x="3" y="-2.6" width="9" height="5.2" rx="1.5" fill="#fff" stroke="#111" stroke-width="1.2"/><path d="M5,-2.4 V2.4" stroke="#444" stroke-width="0.8"/><path d="M6.5,-2.4 V2.4" stroke="#444" stroke-width="0.8"/><path d="M8,-2.4 V2.4" stroke="#444" stroke-width="0.8"/><path d="M9.5,-2.4 V2.4" stroke="#444" stroke-width="0.8"/><rect x="-3" y="-3.6" width="6.5" height="7.2" rx="2.5" fill="#151515"/></g>
<g transform="translate(532.5 423.5) rotate(28)"><rect x="3" y="-2.6" width="9" height="5.2" rx="1.5" fill="#fff" stroke="#111" stroke-width="1.2"/><path d="M5,-2.4 V2.4" stroke="#444" stroke-width="0.8"/><path d="M6.5,-2.4 V2.4" stroke="#444" stroke-width="0.8"/><path d="M8,-2.4 V2.4" stroke="#444" stroke-width="0.8"/><path d="M9.5,-2.4 V2.4" stroke="#444" stroke-width="0.8"/><rect x="-3" y="-3.6" width="6.5" height="7.2" rx="2.5" fill="#151515"/></g>
<path d="M559,398.5 Q563,395 568,396.9 L573.6,406 L573,412.5 Q570,415 567,413.5 L562,404 Z" fill="#fff" stroke="#222" stroke-width="1.1" stroke-linejoin="round"/>
<path d="M562,404 L568,401 M566,409 L572,405" fill="none" stroke="#555" stroke-width="0.7"/>
<ellipse cx="570" cy="410" rx="2" ry="2.6" fill="none" stroke="#333" stroke-width="0.9"/>
<path d="M573,405 L578.5,399" fill="none" stroke="#222" stroke-width="2.6" stroke-linecap="round"/><path d="M573,405 L578.5,399" fill="none" stroke="#fff" stroke-width="1" stroke-dasharray="1 1"/>
<path d="M545,444 L551,435 Q554,431 557,432 L560,441 Q558,445 553,445 Z" fill="#fff" stroke="#222" stroke-width="1.1" stroke-linejoin="round"/>
<ellipse cx="554.5" cy="436.5" rx="2" ry="2.6" fill="none" stroke="#333" stroke-width="0.9"/>
<path d="M551,438 L545,444" fill="none" stroke="#222" stroke-width="2.4" stroke-linecap="round"/>
<path d="M579.8,407.5 Q583,403 585,406 Q587,409 584,414 Q581,419 583,424 Q586,427 588,421 Q590,414 586,413 M585,424 L586.5,432" fill="none" stroke="#111" stroke-width="1.6" stroke-linecap="round"/>
<path d="M572.3,431.5 L569,440 Q564,441 563,447 Q563,453 567,452 Q572,449 571,443 M567,452 L566.8,455" fill="none" stroke="#111" stroke-width="1.6" stroke-linecap="round"/>
<path d="M612,418 C600,426 594,448 596,470 C598,490 608,503 622,503 L630,499 L646,420 C636,412 622,411 612,418 Z" fill="#fff" stroke="#222" stroke-width="1.2" stroke-linejoin="round"/>
<path d="M607,416.8 L600.5,414.8 L602,417.3 L607,421.8 Z M607,425.4 L596.6,422.6 L598.1,425.1 L607,430.4 Z M606,443.9 L588.7,440.3 L590.2,442.8 L606,448.9 Z M606,454.4 L583.8,450 L585.3,452.5 L606,459.4 Z M606,464.2 L581.9,459 L583.4,461.5 L606,469.2 Z M606,473.7 L580.9,467.7 L582.4,470.2 L606,478.7 Z M606,486.3 L586.8,479.5 L588.3,482 L606,491.3 Z" fill="#fff" stroke="#111" stroke-width="1.2" stroke-linejoin="round"/>
<path d="M602.5,416.3 L607,420.3 M598.6,424.1 L607,428.9 M590.7,441.8 L606,447.4 M585.8,451.5 L606,457.9 M583.9,460.5 L606,467.7 M582.9,469.2 L606,477.2 M588.8,481 L606,489.8" fill="none" stroke="#444" stroke-width="1"/>
<path d="M590,486 L604,497 L598,500 Z" fill="#fff" stroke="#222" stroke-width="1"/>
<ellipse cx="631" cy="457.5" rx="23.5" ry="42" transform="rotate(22 631 457.5)" fill="#fff" stroke="#111" stroke-width="1.7"/>
<path d="M620,430.4 L619.5,426.5 L622.6,423.5 L625.1,425.1 M628.1,422.7 L628.6,418.9 L631.8,417.1 L633.5,419.5 M636.5,418.3 L637.9,415 L641,414.6 L641.6,417.6 M644.4,417.9 L646.5,415.3 L649.2,416.4 L648.7,419.6 M650.9,421.2 L653.6,419.7 L655.6,422.2 L654.1,425.3 M655.5,428.2 L658.5,427.8 L659.6,431.4 L657.2,434.1 M657.7,438 L660.7,438.9 L660.8,443.2 L657.8,445.3 M657.3,449.7 L660,451.7 L659.1,456.4 L655.7,457.6 M654.3,462.2 L656.5,465.1 L654.6,469.7 L651.2,470" fill="#fff" stroke="#222" stroke-width="1" stroke-linejoin="round"/>
<ellipse cx="630.5" cy="458" rx="19" ry="35" transform="rotate(22 630.5 458)" fill="#e8e8e8" stroke="#222" stroke-width="1.3"/>
<ellipse cx="630" cy="459" rx="15.5" ry="28.5" transform="rotate(22 630 459)" fill="#fff" stroke="#111" stroke-width="1.6"/>
<ellipse cx="630" cy="459" rx="13.5" ry="25.5" transform="rotate(22 630 459)" fill="none" stroke="#555" stroke-width="0.7"/>
<path d="M615,470 L622,484 L636,480 M640,432 L648,448" fill="none" stroke="#333" stroke-width="1"/>
<ellipse cx="627.5" cy="457" rx="7.5" ry="10" transform="rotate(22 627.5 457)" fill="#fff" stroke="#333" stroke-width="1"/>
<ellipse cx="628" cy="457" rx="3" ry="4" transform="rotate(22 628 457)" fill="#fff" stroke="#222" stroke-width="1.1"/>
<path d="M634,443 L641,445 L642,451 L636,452 Z" fill="#fff" stroke="#333" stroke-width="0.9"/><circle cx="638" cy="447.5" r="1.3" fill="none" stroke="#333" stroke-width="0.8"/>
<circle cx="634.8" cy="426.6" r="1.5" fill="#222"/>
<circle cx="616.2" cy="440.3" r="1.5" fill="#222"/>
<circle cx="607.4" cy="473.6" r="1.5" fill="#222"/>
<circle cx="625" cy="491.3" r="1.5" fill="#222"/>
<circle cx="639.7" cy="479.5" r="1.5" fill="#222"/>
<path d="M527.5,128.5 L522,170.5" fill="none" stroke="#444" stroke-width="0.8"/>
<path d="M519.5,142.5 L533.5,149.8" fill="none" stroke="#222" stroke-width="4.6" stroke-linecap="round"/>
<path d="M520.5,143.0 L533.2,149.60000000000002" fill="none" stroke="#fff" stroke-width="2.6" stroke-linecap="round"/>
<ellipse cx="519.5" cy="142.5" rx="3.3" ry="4" transform="rotate(25 519.5 142.5)" fill="#fff" stroke="#222" stroke-width="1.2"/>
<path d="M513,171.5 L527,178.2" fill="none" stroke="#222" stroke-width="4.6" stroke-linecap="round"/>
<path d="M514,172.0 L526.7,178.0" fill="none" stroke="#fff" stroke-width="2.6" stroke-linecap="round"/>
<ellipse cx="513" cy="171.5" rx="3.3" ry="4" transform="rotate(25 513 171.5)" fill="#fff" stroke="#222" stroke-width="1.2"/>
<ellipse cx="540.4" cy="154.5" rx="2.6" ry="3.4" transform="rotate(25 540.4 154.5)" fill="#222" stroke="#111" stroke-width="1"/>
<ellipse cx="540.4" cy="154.5" rx="1" ry="1.4" transform="rotate(25 540.4 154.5)" fill="#fff"/>
<ellipse cx="534" cy="182.4" rx="2.6" ry="3.4" transform="rotate(25 534 182.4)" fill="#222" stroke="#111" stroke-width="1"/>
<ellipse cx="534" cy="182.4" rx="1" ry="1.4" transform="rotate(25 534 182.4)" fill="#fff"/>
<ellipse cx="552.3" cy="160.8" rx="2.8" ry="3.8" transform="rotate(25 552.3 160.8)" fill="#222" stroke="#111" stroke-width="1"/>
<ellipse cx="552.3" cy="160.8" rx="1" ry="1.4" transform="rotate(25 552.3 160.8)" fill="#fff"/>
<ellipse cx="547" cy="188.8" rx="2.8" ry="3.8" transform="rotate(25 547 188.8)" fill="#222" stroke="#111" stroke-width="1"/>
<ellipse cx="547" cy="188.8" rx="1" ry="1.4" transform="rotate(25 547 188.8)" fill="#fff"/>
<path d="M534.5,200.5 L534.2,186 M535,179 L539.5,158 M554,140.5 L552.8,157 M551.5,164.5 L547.8,185" fill="none" stroke="#444" stroke-width="0.8"/>
<path d="M470,128 L531,91.8" fill="none" stroke="#222" stroke-width="3"/>
<path d="M470,128 L531,91.8" fill="none" stroke="#fff" stroke-width="1.1"/>
<path d="M529.5,90.5 L535.5,87 Q538,87 538.5,90 L538.5,100.5 L533,103.5 L531.5,102 L531.5,93.5 Z" fill="#fff" stroke="#222" stroke-width="1.2" stroke-linejoin="round"/>
<path d="M531.5,93.5 L538,90" fill="none" stroke="#333" stroke-width="0.9"/>
<path d="M455,134.5 L478,121.5 L480.5,126 L458,140.5 Z" fill="#fff" stroke="#222" stroke-width="1.1" stroke-linejoin="round"/>
<path d="M460.5,131 L464,137.5" fill="none" stroke="#111" stroke-width="2.2"/><path d="M467,127.5 L470,133" fill="none" stroke="#333" stroke-width="0.8"/>
<ellipse cx="454.5" cy="138" rx="3" ry="3.8" transform="rotate(-30 454.5 138)" fill="#fff" stroke="#222" stroke-width="1.1"/>
<path d="M490.2,85.7 L494.9,110.8" fill="none" stroke="#444" stroke-width="0.8"/>
<path d="M592.5,79 L600.5,160" fill="none" stroke="#222" stroke-width="5"/>
<path d="M592.5,79 L600.5,160" fill="none" stroke="#fff" stroke-width="2.6"/>
<path d="M588.2,75.6 L596.9,73.5 L597.5,81 L590,83 Z" fill="#fff" stroke="#222" stroke-width="1.1" stroke-linejoin="round"/>
<path d="M578,61 L580.4,56 L593.7,51.5 Q599,51 599.5,58 L598.5,70 Q597,76 592,79 L586,77 Z" fill="#fff" stroke="#222" stroke-width="1.2" stroke-linejoin="round"/>
<path d="M592,52 Q587,55 589,68" fill="none" stroke="#555" stroke-width="0.7"/>
<ellipse cx="583.5" cy="69.3" rx="8.4" ry="7" transform="rotate(-25 583.5 69.3)" fill="#fff" stroke="#111" stroke-width="1.5"/>
<ellipse cx="583.5" cy="69.5" rx="5.3" ry="4.2" transform="rotate(-25 583.5 69.5)" fill="#fff" stroke="#111" stroke-width="1.8"/>
<path d="M572.7,167.2 L579.1,162.1 L594.4,158.3 L598.2,160.2 L602,160.8 L607.1,162.7 L609,167.8 L608.4,179.3 L603.3,188.2 L599.5,194 L585.5,202.2 L580.4,201 L577.8,199 L575.3,203.5 L574,207.3 L568.9,209.9 L567,206 L567,194.6 L567.6,181.8 L569.6,173.6 Z" fill="#fff" stroke="#111" stroke-width="1.6" stroke-linejoin="round"/>
<path d="M576.6,179.3 L576.6,198.4 M577.8,180.6 L600.8,174.2 L609,167.8 M598.2,194.6 L600.8,174.2 M579,164.6 L593,160 L594.4,167.8 L585.5,171 L579,164.6 M585.5,171 L586,176 M573,168 L576.6,179.3 M602,161 L604,175 M581,182 L583,198 M590,180 L591,197" fill="none" stroke="#333" stroke-width="0.8"/>
<circle cx="579.7" cy="172.3" r="2.3" fill="#fff" stroke="#222" stroke-width="1.1"/><circle cx="573.4" cy="201" r="2.3" fill="#fff" stroke="#222" stroke-width="1.1"/>
<path d="M581.5,190 L586,189 L587,194 L583,195.5 Z" fill="#222"/>
<path d="M599.7,194 L615.4,216" fill="none" stroke="#444" stroke-width="0.8"/>
<rect x="90.5" y="24.5" width="15" height="12" fill="#fff" stroke="#c8c8c8" stroke-width="1"/>
<text x="98" y="34.5" font-size="10.4" fill="#2a2a2a" text-anchor="middle">2</text>
<rect x="83.5" y="58.5" width="15" height="12" fill="#fff" stroke="#c8c8c8" stroke-width="1"/>
<text x="91" y="68.5" font-size="10.4" fill="#2a2a2a" text-anchor="middle">3</text>
<rect x="178.5" y="300.5" width="15" height="12.5" fill="#fff" stroke="#c8c8c8" stroke-width="1"/>
<text x="186" y="311" font-size="10.4" fill="#2a2a2a" text-anchor="middle">5</text>
<rect x="242.5" y="152.5" width="15" height="12" fill="#fff" stroke="#c8c8c8" stroke-width="1"/>
<text x="250" y="162.5" font-size="10.4" fill="#2a2a2a" text-anchor="middle">6</text>
<rect x="269.5" y="197" width="15" height="12" fill="#fff" stroke="#c8c8c8" stroke-width="1"/>
<text x="277" y="207" font-size="10.4" fill="#2a2a2a" text-anchor="middle">7</text>
<rect x="257.5" y="289.5" width="15" height="12" fill="#fff" stroke="#c8c8c8" stroke-width="1"/>
<text x="265" y="299.5" font-size="10.4" fill="#2a2a2a" text-anchor="middle">8</text>
<rect x="319.5" y="227" width="14" height="12.5" fill="#fff" stroke="#c8c8c8" stroke-width="1"/>
<text x="326.5" y="237.5" font-size="10.4" fill="#2a2a2a" text-anchor="middle">9</text>
<rect x="301.5" y="299" width="16" height="12.5" fill="#fff" stroke="#c8c8c8" stroke-width="1"/>
<text x="309.5" y="309.5" font-size="10.4" fill="#2a2a2a" text-anchor="middle">10</text>
<rect x="409.5" y="221.5" width="16" height="12.5" fill="#fff" stroke="#c8c8c8" stroke-width="1"/>
<text x="417.5" y="232" font-size="10.4" fill="#2a2a2a" text-anchor="middle">11</text>
<rect x="415.5" y="357" width="16" height="12.5" fill="#fff" stroke="#c8c8c8" stroke-width="1"/>
<text x="423.5" y="367.5" font-size="10.4" fill="#2a2a2a" text-anchor="middle">12</text>
<rect x="316" y="101" width="15.5" height="12.5" fill="#fff" stroke="#c8c8c8" stroke-width="1"/>
<text x="323.8" y="111.5" font-size="10.4" fill="#2a2a2a" text-anchor="middle">13</text>
<rect x="458.5" y="403" width="15.5" height="12.5" fill="#fff" stroke="#c8c8c8" stroke-width="1"/>
<text x="466.2" y="413.5" font-size="10.4" fill="#2a2a2a" text-anchor="middle">14</text>
<rect x="504.5" y="361" width="15.5" height="12.5" fill="#fff" stroke="#c8c8c8" stroke-width="1"/>
<text x="512.2" y="371.5" font-size="10.4" fill="#2a2a2a" text-anchor="middle">15</text>
<rect x="493.5" y="421.5" width="15.5" height="12.5" fill="#fff" stroke="#c8c8c8" stroke-width="1"/>
<text x="501.2" y="432" font-size="10.4" fill="#2a2a2a" text-anchor="middle">16</text>
<rect x="587.5" y="365.5" width="15" height="12" fill="#fff" stroke="#c8c8c8" stroke-width="1"/>
<text x="595" y="375.5" font-size="10.4" fill="#2a2a2a" text-anchor="middle">17</text>
<rect x="523.5" y="116.5" width="13.5" height="12" fill="#fff" stroke="#c8c8c8" stroke-width="1"/>
<text x="530.2" y="126.5" font-size="10.4" fill="#2a2a2a" text-anchor="middle">18</text>
<rect x="527.5" y="200.5" width="14" height="12" fill="#fff" stroke="#c8c8c8" stroke-width="1"/>
<text x="534.5" y="210.5" font-size="10.4" fill="#2a2a2a" text-anchor="middle">19</text>
<rect x="547.5" y="128.5" width="13" height="12" fill="#fff" stroke="#c8c8c8" stroke-width="1"/>
<text x="554" y="138.5" font-size="10.4" fill="#2a2a2a" text-anchor="middle">20</text>
<rect x="609" y="216" width="15" height="12" fill="#fff" stroke="#c8c8c8" stroke-width="1"/>
<text x="616.5" y="226" font-size="10.4" fill="#2a2a2a" text-anchor="middle">21</text>
<rect x="483.5" y="73.5" width="15" height="12.5" fill="#fff" stroke="#c8c8c8" stroke-width="1"/>
<text x="491" y="84" font-size="10.4" fill="#2a2a2a" text-anchor="middle">22</text>
<rect x="192" y="121" width="15.5" height="12.5" fill="#f6b98c"/>
<text x="199.7" y="131" font-size="10" font-weight="bold" fill="#8a4a1c" text-anchor="middle">4</text>
<rect x="808" y="70" width="43" height="36" fill="#f6b98c" stroke="#f0a874" stroke-width="0.8"/>
<text x="827.8" y="100" font-size="28" fill="#7d3f12" stroke="#7d3f12" stroke-width="0.3" text-anchor="middle">4</text>
</svg>
<div style="position:absolute;left:856px;top:101.5px;width:141px;height:32px;box-shadow:1.5px 2px 2.5px rgba(0,0,0,0.6);border-radius:2px;background:#fdfcd8;overflow:hidden;">
  <div style="position:absolute;left:0;top:0;width:33px;height:32px;background:#fff;border-right:1px solid #e3e1b5;"></div>
</div>
<svg width="1000" height="510" viewBox="0 0 1000 510" style="position:absolute;left:0;top:0">
<circle cx="871.3" cy="118.3" r="7.6" fill="none" stroke="#7a7a7a" stroke-width="1.1"/>
<rect x="870.6" y="116.5" width="1.4" height="5.5" fill="#7a7a7a"/><circle cx="871.3" cy="114.3" r="0.8" fill="#7a7a7a"/>
<text x="898.8" y="123.8" font-size="10" fill="#5a5a5a" textLength="89.8" lengthAdjust="spacingAndGlyphs">50310260 | Kit spring</text>
<circle cx="850" cy="449" r="22" fill="#f6bf93"/>
<path d="M843,426 L851,426 L846.8,454 L852,454 L851,460.8 L839.4,460.8 Z" fill="#fff"/>
<circle cx="862.4" cy="445.9" r="4.7" fill="#fff"/>
<circle cx="879.4" cy="445.3" r="4.9" fill="#787878"/>
<text x="887.5" y="460.8" font-size="45" font-weight="bold" font-style="italic" fill="#777" stroke="#777" stroke-width="0.4" textLength="22" lengthAdjust="spacingAndGlyphs">B</text><text x="911" y="460.8" font-size="45" font-weight="bold" fill="#777" stroke="#777" stroke-width="0.4" textLength="59" lengthAdjust="spacingAndGlyphs">est</text>
<text x="970" y="443.5" font-size="6.5" fill="#8a8a8a" textLength="10" lengthAdjust="spacingAndGlyphs">Kft.</text>
<text x="887.3" y="471" font-size="6.7" font-weight="bold" fill="#707070" stroke="#707070" stroke-width="0.25" textLength="91.7" lengthAdjust="spacing">Kertigépek és alkatrészek</text>
<rect x="816" y="479" width="173.6" height="20.8" fill="#f6bf93"/>
<text x="851" y="493.7" font-size="9.8" font-weight="bold" fill="#6f7377" stroke="#6f7377" stroke-width="0.15" textLength="104.8" lengthAdjust="spacing">WWW.LOBEST.HU</text>
</svg>
</body></html>
